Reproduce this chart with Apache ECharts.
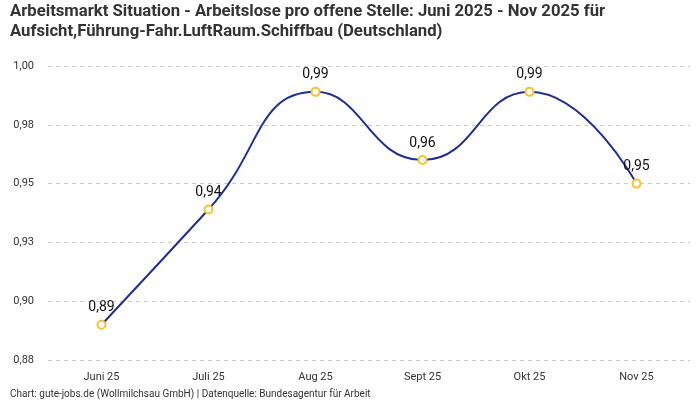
<!DOCTYPE html>
<html><head><meta charset="utf-8">
<script src="https://cdn.jsdelivr.net/npm/echarts@6/dist/echarts.min.js"></script>
<style>html,body{margin:0;padding:0;background:#fff}#c{width:700px;height:400px}</style>
</head><body><div id="c"></div>
<script>
const categories = ['Juni 25','Juli 25','Aug 25','Sept 25','Okt 25','Nov 25'];
const values = [0.89, 0.939, 0.989, 0.96, 0.989, 0.95];
const titleText = 'Arbeitsmarkt Situation - Arbeitslose pro offene Stelle: Juni 2025 - Nov 2025 für\nAufsicht,Führung-Fahr.LuftRaum.Schiffbau (Deutschland)';
const footerText = 'Chart: gute-jobs.de (Wollmilchsau GmbH) | Datenquelle: Bundesagentur für Arbeit';
const fmt = v => (Math.round(v * 100) / 100).toFixed(2).replace('.', ',');
const chart = echarts.init(document.getElementById('c'));
chart.setOption({
  animation:false,
  textStyle:{fontFamily:'Roboto'},
  title:[{text:titleText,left:5,top:-3,textStyle:{fontSize:16.7,fontWeight:'bold',color:'#333',lineHeight:20,fontFamily:'Roboto'}},
         {text:footerText,left:5,bottom:-4,textStyle:{fontSize:10,fontWeight:'normal',color:'#333',fontFamily:'Roboto'}}],
  grid:{left:48,right:10,top:66,bottom:40},
  xAxis:{type:'category',data:categories,boundaryGap:true,
    axisLine:{show:false},axisTick:{show:false},
    axisLabel:{color:'#333',fontSize:11,margin:12}},
  yAxis:{type:'value',min:0.875,max:1.0,interval:0.025,
    axisLabel:{formatter:v=>fmt(v),color:'#333',fontSize:11,margin:14},
    splitLine:{lineStyle:{type:[4,4],color:'#ccc'}}},
  series:[{type:'line',data:values,smooth:true,
    lineStyle:{color:'#1f2e8f',width:2},
    symbol:'circle',symbolSize:8,
    itemStyle:{color:'#fff',borderColor:'#f5c132',borderWidth:2},
    label:{show:true,position:'top',formatter:p=>fmt(p.value),color:'#111',fontSize:14,distance:5}}]
});
</script></body></html>
